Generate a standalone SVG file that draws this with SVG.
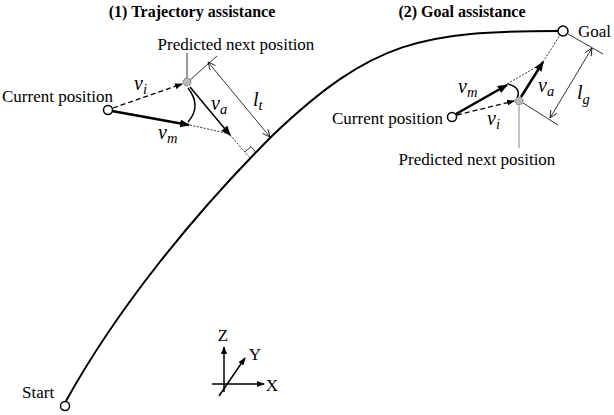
<svg xmlns="http://www.w3.org/2000/svg" width="614" height="415" viewBox="0 0 614 415">
<style>
text{font-family:"Liberation Serif","Times New Roman",serif;fill:#000}
.lbl{font-size:17px}
.title{font-size:16px;font-weight:bold}
.math{font-style:italic;font-size:20px}
.sub{font-size:14.5px}
.node{fill:#fff;stroke:#000;stroke-width:1.5}
.pred{fill:#b8b8b8;stroke:#666;stroke-width:1;stroke-dasharray:1.5 1}
.thin{stroke:#000;stroke-width:0.8;fill:none}
.dot{stroke:#000;stroke-width:0.8;fill:none;stroke-dasharray:2 1.5}
.dash{stroke:#000;stroke-width:1.3;fill:none;stroke-dasharray:5 3}
.thick{stroke:#000;stroke-width:2.5;fill:none}
.mid{stroke:#000;stroke-width:1.5;fill:none}
.curve{stroke:#000;stroke-width:2;fill:none}
.lead{stroke:#333;stroke-width:1;fill:none}
.leadg{stroke:#999;stroke-width:1.2;fill:none}
</style>
<defs>
<marker id="ah" markerUnits="userSpaceOnUse" markerWidth="10" markerHeight="8" refX="9" refY="4" orient="auto"><path d="M0,0 L10,4 L0,8 z" fill="#000"/></marker>
<marker id="ahs" markerUnits="userSpaceOnUse" markerWidth="8" markerHeight="6" refX="7" refY="3" orient="auto"><path d="M0,0 L8,3 L0,6 z" fill="#000"/></marker>
<marker id="open" markerUnits="userSpaceOnUse" markerWidth="9" markerHeight="8" refX="8" refY="4" orient="auto-start-reverse"><path d="M0.5,0.5 L8,4 L0.5,7.5" fill="none" stroke="#000" stroke-width="0.8"/></marker>
</defs>

<g id="titles">
<text class="title" x="192" y="17" text-anchor="middle">(1) Trajectory assistance</text>
<text class="title" x="462" y="17" text-anchor="middle">(2) Goal assistance</text>
</g>

<g id="connectors">
<!-- trajectory -->
<path class="curve" d="M66,401 C117,309 193,215 273,135 C373,40 423,31 558,31"/>
<!-- left part -->
<line class="dash" x1="113" y1="108" x2="182" y2="84" marker-end="url(#ahs)"/>
<line class="thick" x1="112" y1="111" x2="189" y2="125" marker-end="url(#ah)"/>
<path class="mid" d="M188,88 Q202,106 188,122"/>
<line class="mid" x1="190" y1="87" x2="230" y2="135" marker-end="url(#ah)"/>
<line class="dot" x1="190" y1="125" x2="230" y2="134"/>
<line class="dot" x1="230" y1="135" x2="250" y2="158"/>
<path class="thin" d="M244.9,151.8 L251.1,146.7 L256.2,152.9"/>
<line class="lead" x1="187" y1="53" x2="187" y2="78"/>
<line class="thin" x1="190" y1="80" x2="217" y2="56"/>
<line class="thin" x1="208" y1="62" x2="270" y2="137" marker-start="url(#open)" marker-end="url(#open)"/>
<!-- right part -->
<line class="dash" x1="457" y1="115" x2="514" y2="101" marker-end="url(#ahs)"/>
<line class="thick" x1="456" y1="114" x2="507" y2="85" marker-end="url(#ah)"/>
<path class="mid" d="M508,84 Q522,88 517,98"/>
<line class="thick" x1="521" y1="97" x2="543" y2="62" marker-end="url(#ah)"/>
<line class="dot" x1="507" y1="84" x2="543" y2="63"/>
<line class="dot" x1="543" y1="62" x2="560" y2="35"/>
<line class="leadg" x1="519" y1="106" x2="519" y2="148"/>
<line class="thin" x1="568" y1="34" x2="603" y2="54"/>
<line class="thin" x1="523" y1="103" x2="558" y2="125"/>
<line class="thin" x1="592" y1="48" x2="550" y2="118" marker-start="url(#open)" marker-end="url(#open)"/>
<!-- axes -->
<line class="mid" x1="224" y1="392" x2="224" y2="347" marker-end="url(#ahs)"/>
<line class="mid" x1="212" y1="384" x2="264" y2="384" marker-end="url(#ahs)"/>
<line class="mid" x1="219" y1="396" x2="245" y2="358" marker-end="url(#ahs)"/>
</g>

<g id="start">
<circle class="node" cx="65" cy="406" r="4.5"/>
<text class="lbl" x="22" y="398">Start</text>
</g>
<g id="goal">
<circle class="node" cx="563" cy="31" r="5"/>
<text class="lbl" x="578" y="37">Goal</text>
</g>

<g id="current1">
<circle class="node" cx="108" cy="110" r="4.5"/>
<text class="lbl" x="2" y="102">Current position</text>
</g>
<g id="predicted1">
<circle class="pred" cx="187" cy="82" r="4"/>
<text class="lbl" x="236" y="50" text-anchor="middle">Predicted next position</text>
</g>
<g id="labels1">
<text class="math" x="134" y="90">v<tspan class="sub" dy="4">i</tspan></text>
<text class="math" x="158" y="139">v<tspan class="sub" dy="4">m</tspan></text>
<text class="math" x="211" y="110">v<tspan class="sub" dy="4">a</tspan></text>
<text class="math" x="253" y="106">l<tspan class="sub" dy="4">t</tspan></text>
</g>

<g id="current2">
<circle class="node" cx="452" cy="117" r="4.5"/>
<text class="lbl" x="443" y="124" text-anchor="end">Current position</text>
</g>
<g id="predicted2">
<circle class="pred" cx="519" cy="101" r="4"/>
<text class="lbl" x="477" y="165" text-anchor="middle">Predicted next position</text>
</g>
<g id="labels2">
<text class="math" x="458" y="93">v<tspan class="sub" dy="4">m</tspan></text>
<text class="math" x="538" y="92">v<tspan class="sub" dy="4">a</tspan></text>
<text class="math" x="487" y="125">v<tspan class="sub" dy="4">i</tspan></text>
<text class="math" x="577" y="99">l<tspan class="sub" dy="5">g</tspan></text>
</g>

<g id="axes-labels">
<text class="lbl" x="223" y="341" text-anchor="middle">Z</text>
<text class="lbl" x="255" y="360" text-anchor="middle">Y</text>
<text class="lbl" x="272" y="391" text-anchor="middle">X</text>
</g>
</svg>
